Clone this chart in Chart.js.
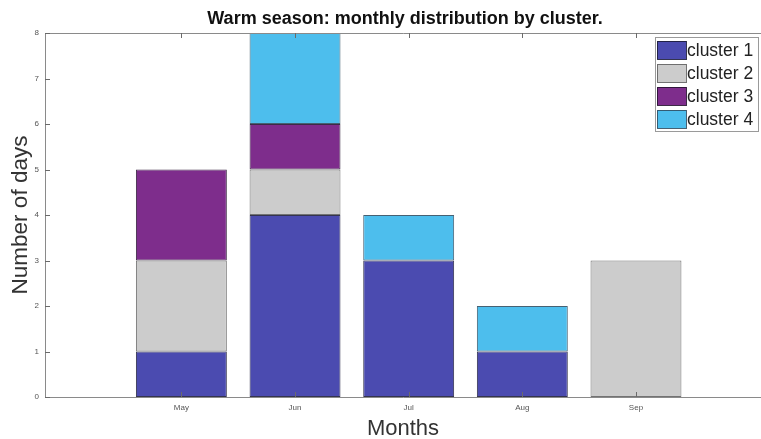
<!DOCTYPE html>
<html>
<head>
<meta charset="utf-8">
<script src="https://cdn.jsdelivr.net/npm/chart.js@4.4.1/dist/chart.umd.min.js"></script>
<style>
  html, body { margin: 0; padding: 0; background: #fff; }
  #wrap { width: 761px; height: 439px; position: relative; }
</style>
</head>
<body>
<div id="wrap"><canvas id="clusterChart"></canvas></div>
<script>
// Data
const monthLabels = ['May', 'Jun', 'Jul', 'Aug', 'Sep'];
const monthNumbers = [5, 6, 7, 8, 9];
const cluster1 = [1, 4, 3, 1, 0];
const cluster2 = [2, 1, 0, 0, 3];
const cluster3 = [2, 1, 0, 0, 0];
const cluster4 = [0, 2, 1, 1, 0];
const seriesNames = ['cluster 1', 'cluster 2', 'cluster 3', 'cluster 4'];
const yTicks = [0, 1, 2, 3, 4, 5, 6, 7, 8];

const colors = ['rgb(75,75,176)', 'rgb(204,204,204)', 'rgb(126,45,140)', 'rgb(77,190,237)'];
const edgeColors = ['rgba(30,30,60,0.9)', 'rgba(100,100,100,0.9)', 'rgba(40,20,50,0.9)', 'rgba(50,80,100,0.9)'];

// build points for the linear x axis, empty cells left out
function toPoints(values) {
    return values.map((v, i) => ({ x: monthNumbers[i], y: v === 0 ? null : v }));
}

const datasets = [cluster1, cluster2, cluster3, cluster4].map((vals, i) => ({
    label: seriesNames[i],
    data: toPoints(vals),
    backgroundColor: colors[i],
    borderColor: edgeColors[i],
    borderWidth: 1,
    borderSkipped: false,
    categoryPercentage: 0.8,
    barPercentage: 1.0
}));

// Frame, inward ticks, title and legend in MATLAB style
const matlabLook = {
    id: 'matlabLook',
    afterDatasetsDraw(chart) {
        const { ctx, chartArea: a, scales: { x, y } } = chart;
        ctx.save();
        ctx.strokeStyle = '#8a8a8a';
        ctx.lineWidth = 1;
        ctx.beginPath();
        ctx.moveTo(a.right, a.top + 0.5);
        ctx.lineTo(a.left + 0.5, a.top + 0.5);
        ctx.lineTo(a.left + 0.5, a.bottom + 0.5);
        ctx.lineTo(a.right, a.bottom + 0.5);
        ctx.stroke();

        // inward tick marks
        ctx.strokeStyle = '#6a6a6a';
        ctx.beginPath();
        monthNumbers.forEach(m => {
            const px = Math.round(x.getPixelForValue(m)) + 0.5;
            ctx.moveTo(px, a.bottom);
            ctx.lineTo(px, a.bottom - 5);
            ctx.moveTo(px, a.top);
            ctx.lineTo(px, a.top + 5);
        });
        yTicks.forEach(v => {
            const py = Math.round(y.getPixelForValue(v)) + 0.5;
            ctx.moveTo(a.left, py);
            ctx.lineTo(a.left + 5, py);
        });
        ctx.stroke();

        // title
        ctx.fillStyle = '#111';
        ctx.font = 'bold 18px "Liberation Sans", Arial, sans-serif';
        ctx.textAlign = 'center';
        ctx.textBaseline = 'middle';
        ctx.fillText('Warm season: monthly distribution by cluster.', 405, 19);

        // legend box
        const lx = 655, ly = 37, lw = 103, rowH = 23;
        ctx.fillStyle = '#fff';
        ctx.fillRect(lx, ly, lw, rowH * 4 + 2);
        ctx.strokeStyle = '#9a9a9a';
        ctx.strokeRect(lx + 0.5, ly + 0.5, lw, rowH * 4 + 2);
        ctx.font = '17.5px "Liberation Sans", Arial, sans-serif';
        ctx.textAlign = 'left';
        chart.data.datasets.forEach((ds, i) => {
            const cy = ly + 13 + i * rowH;
            ctx.fillStyle = ds.backgroundColor;
            ctx.fillRect(lx + 2, cy - 9, 29, 18);
            ctx.strokeStyle = ds.borderColor;
            ctx.strokeRect(lx + 2.5, cy - 8.5, 29, 18);
            ctx.fillStyle = '#222';
            ctx.fillText(ds.label, lx + 32, cy + 1);
        });
        ctx.restore();
    }
};

new Chart(document.getElementById('clusterChart'), {
    type: 'bar',
    data: { datasets: datasets },
    plugins: [matlabLook],
    options: {
        responsive: true,
        maintainAspectRatio: false,
        animation: false,
        layout: { padding: { top: 33, right: 0, left: 0, bottom: 0 } },
        plugins: {
            legend: { display: false },
            title: { display: false },
            tooltip: { enabled: false }
        },
        scales: {
            x: {
                type: 'linear',
                stacked: true,
                offset: false,
                min: 3.8,
                max: 10.1,
                grid: { display: false, drawTicks: false },
                border: { display: false },
                afterBuildTicks: scale => {
                    scale.ticks = monthNumbers.map(v => ({ value: v }));
                },
                afterFit: scale => { scale.height = 42; },
                ticks: {
                    autoSkip: false,
                    maxRotation: 0,
                    padding: 6,
                    color: '#555',
                    font: { size: 8, family: '"Liberation Sans", Arial, sans-serif' },
                    callback: value => monthLabels[monthNumbers.indexOf(value)] || ''
                },
                title: {
                    display: true,
                    text: 'Months',
                    color: '#333',
                    padding: { top: 0, bottom: -3 },
                    font: { size: 22, family: '"Liberation Sans", Arial, sans-serif' }
                }
            },
            y: {
                stacked: true,
                min: 0,
                max: 8,
                grid: { display: false, drawTicks: false },
                border: { display: false },
                afterBuildTicks: scale => {
                    scale.ticks = yTicks.map(v => ({ value: v }));
                },
                afterFit: scale => { scale.width = 45; },
                ticks: {
                    padding: 6,
                    color: '#555',
                    font: { size: 8, family: '"Liberation Sans", Arial, sans-serif' }
                },
                title: {
                    display: true,
                    text: 'Number of days',
                    color: '#333',
                    padding: { top: 7, bottom: 0 },
                    font: { size: 22.5, family: '"Liberation Sans", Arial, sans-serif' }
                }
            }
        }
    }
});
</script>
</body>
</html>
